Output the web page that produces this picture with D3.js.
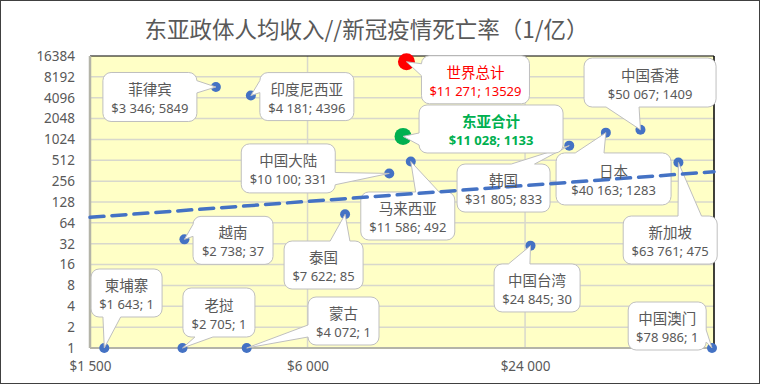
<!DOCTYPE html>
<html>
<head>
<meta charset="utf-8">
<script src="https://cdn.jsdelivr.net/npm/d3@7"></script>
<style>
  body { margin: 0; background: #fff; }
  text { font-family: "Noto Sans", "Noto Sans CJK SC", sans-serif; }
</style>
</head>
<body>
<svg id="chart" width="760" height="384"></svg>
<script>
//------------------------------------------------------------------------------
//Data
//------------------------------------------------------------------------------
let names  = ["菲律宾", "印度尼西亚", "中国大陆", "马来西亚", "越南", "泰国", "柬埔寨", "老挝", "蒙古",
              "韩国", "日本", "中国香港", "新加坡", "中国台湾", "中国澳门"];
let income = [3346, 4181, 10100, 11586, 2738, 7622, 1643, 2705, 4072,
              31805, 40163, 50067, 63761, 24845, 78986];
let deaths = [5849, 4396, 331, 492, 37, 85, 1, 1, 1,
              833, 1283, 1409, 475, 30, 1];

let totalNames  = ["世界总计", "东亚合计"];
let totalIncome = [11271, 11028];
let totalDeaths = [13529, 1133];

// trendline ends
let trendIncome = [1500, 80000];
let trendDeaths = [77, 350];

let yTicks = [1, 2, 4, 8, 16, 32, 64, 128, 256, 512, 1024, 2048, 4096, 8192, 16384];
let xTicks = [1500, 6000, 24000];

// callout layout: box center offset from point (px), box width, box height
let labelLayout = [
  [-66, 10, 94, 49], [56, 1, 94, 48], [-101, -5, 94, 49], [-3, 54.5, 94, 48],
  [48.6, 1, 80, 48], [-21.5, 50.7, 79, 48], [22.3, -55, 71, 48], [36.4, -35.5, 72, 49],
  [96.8, -27, 71, 48], [-65.7, 42.4, 93, 48], [7.7, 46.3, 115, 52], [9.6, -47.3, 132, 49],
  [-8.2, 77.5, 94, 48], [6.6, 42.3, 86, 48], [-44.8, -22, 78, 48]
];
let totalLayout = [[69, 18, 108, 48], [88, -7.4, 144, 48]];
let totalColors = ["#ff0000", "#00b050"];


main()


//------------------------------------------------------------------------------
//Main
//------------------------------------------------------------------------------
function main()
{
    var svg = d3.select("#chart");
    var left = 90, right = 714, top = 56, bottom = 348;

    var x = d3.scaleLog().domain([1500, 80000]).range([left, right]);
    var y = d3.scaleLog().base(2).domain([1, 16384]).range([bottom, top]);

    // outer frame
    svg.append("rect").attr("x", 0.5).attr("y", 0.5).attr("width", 759).attr("height", 383)
        .attr("fill", "#fff").attr("stroke", "#404040");

    // title
    svg.append("text").attr("x", 366.5).attr("y", 38).attr("text-anchor", "middle")
        .style("font-family", '"Noto Sans CJK SC", sans-serif')
        .attr("font-size", 22.5).attr("fill", "#595959")
        .text("东亚政体人均收入//新冠疫情死亡率（1/亿）");

    // plot background
    svg.append("rect").attr("x", left).attr("y", top)
        .attr("width", right - left).attr("height", bottom - top)
        .attr("fill", "#ffffc6");

    // grid
    svg.append("g").selectAll("line").data(yTicks.slice(1, -1)).enter().append("line")
        .attr("x1", left).attr("x2", right)
        .attr("y1", d => y(d)).attr("y2", d => y(d))
        .attr("stroke", "#d8d8cc").attr("stroke-width", 1.5);
    svg.append("g").selectAll("line").data(xTicks.slice(1)).enter().append("line")
        .attr("x1", d => x(d)).attr("x2", d => x(d))
        .attr("y1", top).attr("y2", bottom)
        .attr("stroke", "#d8d8cc").attr("stroke-width", 1.5);

    // borders
    svg.append("line").attr("x1", left).attr("x2", right).attr("y1", top).attr("y2", top)
        .attr("stroke", "#000").attr("stroke-width", 1.2);
    svg.append("line").attr("x1", right).attr("x2", right).attr("y1", top).attr("y2", bottom)
        .attr("stroke", "#000").attr("stroke-width", 1.5);
    svg.append("line").attr("x1", left).attr("x2", right).attr("y1", bottom).attr("y2", bottom)
        .attr("stroke", "#b4b4a8").attr("stroke-width", 2);
    svg.append("line").attr("x1", left).attr("x2", left).attr("y1", top).attr("y2", bottom)
        .attr("stroke", "#b4b4a8").attr("stroke-width", 2.5);

    // axes
    var yAxis = d3.axisLeft(y).tickValues(yTicks).tickSize(0).tickPadding(15).tickFormat(d3.format("d"));
    var gy = svg.append("g").attr("transform", "translate(" + left + ",0)").call(yAxis);
    gy.select(".domain").remove();
    gy.selectAll("text").attr("font-size", 13.5).attr("fill", "#595959")
        .style("font-family", '"Noto Sans", sans-serif');

    var fmtMoney = v => "$" + d3.format(",")(v).replace(/,/g, " ");
    var xAxis = d3.axisBottom(x).tickValues(xTicks).tickSize(0).tickPadding(13).tickFormat(fmtMoney);
    var gx = svg.append("g").attr("transform", "translate(0," + bottom + ")").call(xAxis);
    gx.select(".domain").remove();
    gx.selectAll("text").attr("font-size", 13.5).attr("fill", "#595959")
        .style("font-family", '"Noto Sans", sans-serif');

    // markers
    svg.append("g").selectAll("circle").data(income).enter().append("circle")
        .attr("cx", (d, i) => x(d)).attr("cy", (d, i) => y(deaths[i]))
        .attr("r", 5).attr("fill", "#4472c4");
    svg.append("g").selectAll("circle").data(totalIncome).enter().append("circle")
        .attr("cx", (d, i) => x(d)).attr("cy", (d, i) => y(totalDeaths[i]))
        .attr("r", 8.5).attr("fill", (d, i) => totalColors[i]);

    // callouts
    var labels = [];
    names.forEach((n, i) => labels.push({
        name: n, inc: income[i], dth: deaths[i], lay: labelLayout[i], color: "#595959", bold: false
    }));
    totalNames.forEach((n, i) => labels.push({
        name: n, inc: totalIncome[i], dth: totalDeaths[i], lay: totalLayout[i], color: totalColors[i], bold: i == 1
    }));

    var cg = svg.append("g");
    labels.forEach(d => {
        var px = x(d.inc), py = y(d.dth);
        d.cx = px + d.lay[0];
        d.cy = py + d.lay[1];
        cg.append("path")
            .attr("d", callout(d.cx, d.cy, d.lay[2], d.lay[3], px, py))
            .attr("fill", "#fff").attr("stroke", "#bfbfbf").attr("stroke-width", 1);
    });

    // trendline
    svg.append("line")
        .attr("x1", x(trendIncome[0])).attr("y1", y(trendDeaths[0]))
        .attr("x2", x(trendIncome[1])).attr("y2", y(trendDeaths[1]))
        .attr("stroke", "#4472c4").attr("stroke-width", 3.5)
        .attr("stroke-dasharray", "14 8").attr("stroke-linecap", "round");

    // callout texts
    var tg = svg.append("g");
    labels.forEach(d => {
        tg.append("text").attr("x", d.cx).attr("y", d.cy - 8.5)
            .attr("text-anchor", "middle").attr("dominant-baseline", "central")
            .style("font-family", '"Noto Sans CJK SC", sans-serif')
            .attr("font-size", 14.5).attr("fill", d.color)
            .attr("font-weight", d.bold ? "bold" : "normal")
            .text(d.name);
        tg.append("text").attr("x", d.cx).attr("y", d.cy + 11)
            .attr("text-anchor", "middle").attr("dominant-baseline", "central")
            .attr("font-size", 13).attr("fill", d.color)
            .attr("font-weight", d.bold ? "bold" : "normal")
            .text(fmtMoney(d.inc) + "; " + d.dth);
    });
}


//------------------------------------------------------------------------------
//Callout shape (rounded rect with wedge)
//------------------------------------------------------------------------------
function callout(cx, cy, w, h, tx, ty)
{
    var l = cx - w / 2, t = cy - h / 2, r = cx + w / 2, b = cy + h / 2;
    var rad = Math.min(w, h) * 0.16667;
    var dxPos = tx - cx, dyPos = ty - cy;
    var dz = Math.abs(dyPos) - Math.abs(dxPos * h / w);
    var x1 = l + w * (dxPos > 0 ? 7 : 2) / 12, x2 = l + w * (dxPos > 0 ? 10 : 5) / 12;
    var y1 = t + h * (dyPos > 0 ? 7 : 2) / 12, y2 = t + h * (dyPos > 0 ? 10 : 5) / 12;
    var side = dz > 0 ? (dyPos > 0 ? "b" : "t") : (dxPos > 0 ? "r" : "l");

    var p = d3.path();
    p.moveTo(l, t + rad);
    p.arcTo(l, t, l + rad, t, rad);
    if (side == "t") { p.lineTo(x1, t); p.lineTo(tx, ty); p.lineTo(x2, t); }
    p.lineTo(r - rad, t);
    p.arcTo(r, t, r, t + rad, rad);
    if (side == "r") { p.lineTo(r, y1); p.lineTo(tx, ty); p.lineTo(r, y2); }
    p.lineTo(r, b - rad);
    p.arcTo(r, b, r - rad, b, rad);
    if (side == "b") { p.lineTo(x2, b); p.lineTo(tx, ty); p.lineTo(x1, b); }
    p.lineTo(l + rad, b);
    p.arcTo(l, b, l, b - rad, rad);
    if (side == "l") { p.lineTo(l, y2); p.lineTo(tx, ty); p.lineTo(l, y1); }
    p.closePath();
    return p.toString();
}
</script>
</body>
</html>
